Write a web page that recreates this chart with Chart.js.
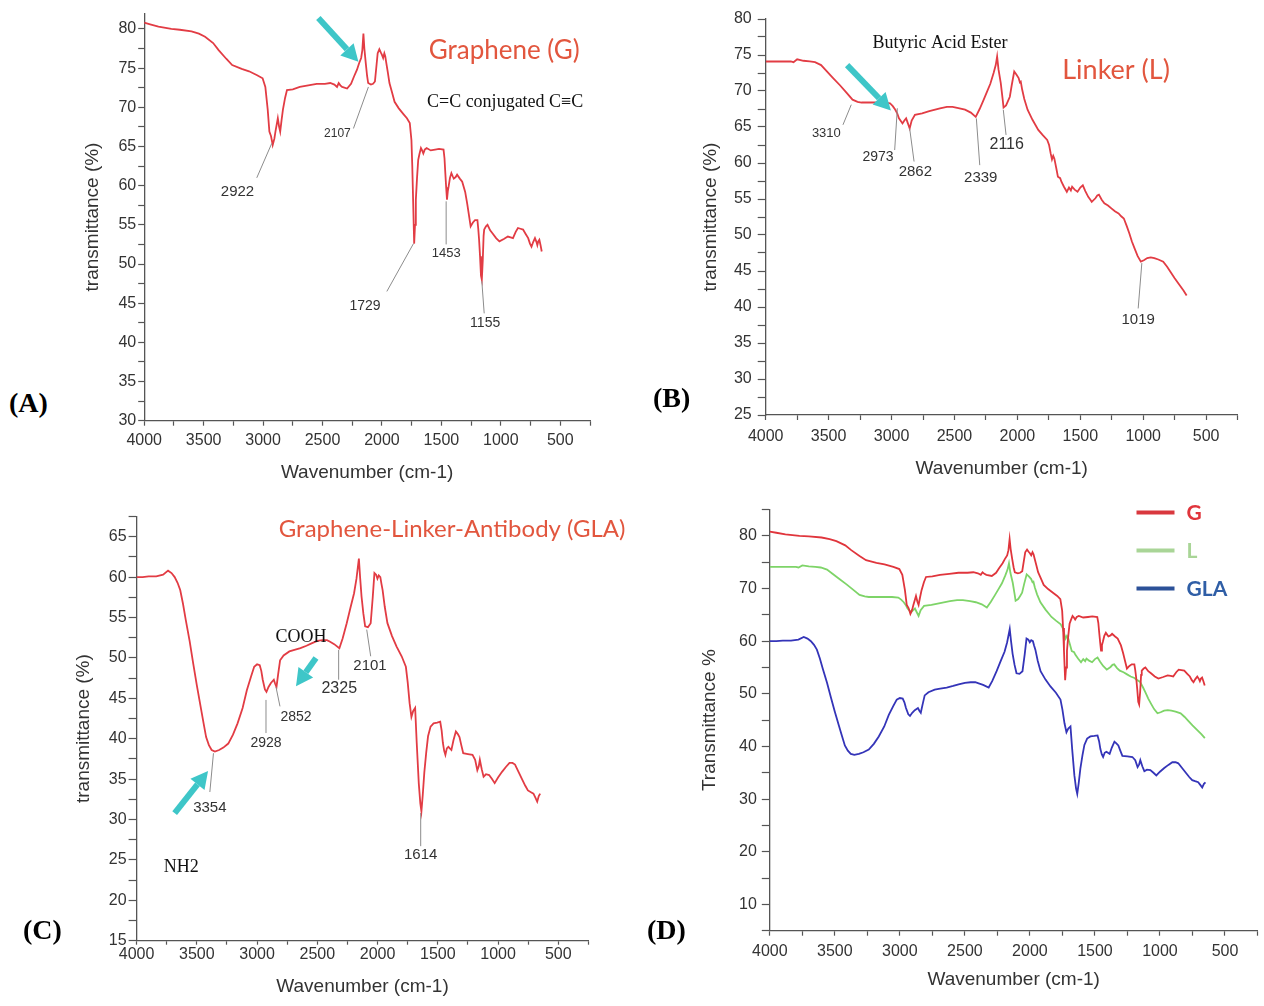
<!DOCTYPE html>
<html>
<head>
<meta charset="utf-8">
<title>FTIR spectra G / L / GLA</title>
<script src="https://cdn.jsdelivr.net/npm/chart.js@4.4.1/dist/chart.umd.min.js"></script>
<style>
  html, body { margin: 0; padding: 0; background: #fff; }
  body { width: 1264px; height: 1006px; position: relative; overflow: hidden; }
  .box { position: absolute; }
  .tag { position: absolute; font: bold 28px "Liberation Serif", "Times New Roman", serif; line-height: 28px; color: #000; }
</style>
</head>
<body>
<div class="box" style="left:60px;top:0;width:600px;height:500px"><canvas id="chartA"></canvas></div>
<div class="box" style="left:680px;top:0;width:584px;height:490px"><canvas id="chartB"></canvas></div>
<div class="box" style="left:50px;top:495px;width:600px;height:511px"><canvas id="chartC"></canvas></div>
<div class="box" style="left:680px;top:495px;width:584px;height:511px"><canvas id="chartD"></canvas></div>
<div class="tag" style="left:9px;top:389px">(A)</div>
<div class="tag" style="left:653px;top:384px">(B)</div>
<div class="tag" style="left:23px;top:916px">(C)</div>
<div class="tag" style="left:647px;top:916px">(D)</div>
<script>
// spectra: [wavenumber cm-1, transmittance %]
const graphene = [
  [4000,80.8],[3950,80.6],[3880,80.3],[3772,80.0],[3700,79.9],[3602,79.7],[3540,79.4],[3488,79.0],
  [3420,78.2],[3374,77.3],[3310,76.2],[3260,75.4],[3180,74.9],[3118,74.6],[3050,74.1],[3004,73.7],
  [2981,72.6],[2961,69.7],[2947,66.9],[2933,66.3],[2919,65.2],[2905,66.0],[2896,66.9],[2876,68.6],
  [2865,67.5],[2856,66.9],[2845,68.3],[2833,69.7],[2815,71.2],[2799,72.2],[2750,72.3],[2691,72.6],
  [2620,72.8],[2549,73.0],[2480,73.0],[2435,73.1],[2400,72.9],[2378,72.6],[2364,73.1],[2350,72.8],
  [2335,72.6],[2293,72.4],[2260,73.0],[2236,73.9],[2210,74.8],[2193,75.6],[2175,76.3],[2165,77.3],
  [2156,79.4],[2148,77.5],[2136,75.6],[2125,74.0],[2116,73.1],[2093,72.9],[2075,73.0],[2059,73.3],
  [2045,75.5],[2036,76.9],[2022,77.4],[2010,77.0],[2000,76.7],[1990,76.3],[1980,76.9],[1972,76.5],
  [1965,75.8],[1950,74.4],[1937,73.1],[1915,71.9],[1894,70.7],[1860,69.9],[1823,69.2],[1790,68.6],
  [1766,68.0],[1752,65.8],[1745,62.5],[1738,58.2],[1729,52.6],[1722,55.0],[1715,58.2],[1705,61.0],
  [1695,63.3],[1685,64.0],[1672,64.8],[1662,64.5],[1652,64.1],[1640,64.6],[1624,64.8],[1590,64.5],
  [1553,64.6],[1520,64.7],[1482,64.6],[1474,63.5],[1467,61.6],[1460,59.8],[1453,58.2],[1446,59.3],
  [1439,59.9],[1428,61.0],[1416,61.6],[1405,61.2],[1396,60.9],[1380,61.1],[1368,61.4],[1345,60.9],
  [1325,60.5],[1300,59.2],[1283,57.7],[1268,56.2],[1254,54.8],[1235,55.3],[1217,55.6],[1197,55.6],
  [1190,54.5],[1183,53.1],[1175,51.0],[1167,48.5],[1160,48.0],[1152,50.5],[1145,53.6],[1140,54.4],
  [1125,54.8],[1112,55.0],[1090,54.3],[1069,53.9],[1040,53.3],[1012,52.9],[975,53.2],[941,53.5],
  [918,53.4],[898,53.3],[875,54.1],[856,54.6],[835,54.5],[813,54.4],[790,53.8],[770,53.3],
  [755,52.6],[742,52.2],[728,52.8],[713,53.3],[700,52.8],[693,52.4],[685,52.9],[676,53.1],
  [666,52.4],[656,51.6]
];
const linker = [
  [4000,74.1],[3900,74.1],[3800,74.1],[3779,74.0],[3750,74.4],[3700,74.2],[3650,74.1],[3608,74.0],
  [3560,73.6],[3523,72.9],[3470,71.9],[3410,70.8],[3360,69.8],[3310,68.8],[3270,68.5],[3239,68.4],
  [3150,68.4],[3060,68.4],[3012,68.3],[2990,67.9],[2970,67.4],[2955,66.9],[2941,66.2],[2925,65.8],
  [2913,65.5],[2898,65.9],[2884,66.2],[2870,65.5],[2856,64.8],[2840,65.9],[2814,66.7],[2757,66.9],
  [2700,67.2],[2615,67.6],[2560,67.8],[2515,67.8],[2460,67.6],[2416,67.4],[2370,67.0],[2331,66.4],
  [2300,67.5],[2270,68.7],[2246,69.7],[2215,71.0],[2189,72.5],[2172,73.6],[2161,74.8],[2150,73.0],
  [2132,71.1],[2118,69.0],[2110,67.7],[2090,68.0],[2075,68.6],[2060,69.2],[2045,70.8],[2025,72.7],
  [2008,72.3],[1990,71.8],[1980,71.2],[1973,71.3],[1962,70.2],[1945,68.9],[1919,67.4],[1880,66.0],
  [1834,64.6],[1800,63.9],[1763,63.2],[1748,62.5],[1735,61.3],[1725,60.5],[1715,61.0],[1706,60.6],
  [1690,59.2],[1678,58.1],[1660,57.9],[1650,57.4],[1630,56.7],[1607,56.0],[1590,56.6],[1575,56.2],
  [1565,56.7],[1545,56.3],[1522,56.0],[1500,56.6],[1480,56.9],[1460,56.1],[1437,55.3],[1420,54.9],
  [1409,54.6],[1380,55.1],[1365,55.5],[1352,55.6],[1330,54.9],[1309,54.4],[1280,54.1],[1253,53.7],
  [1225,53.3],[1196,53.0],[1175,52.6],[1154,52.3],[1130,51.2],[1110,50.2],[1090,49.1],[1068,48.1],
  [1045,47.1],[1019,46.3],[995,46.5],[968,46.8],[940,46.9],[912,46.8],[880,46.6],[841,46.3],
  [810,45.6],[784,44.9],[750,44.0],[713,43.1],[680,42.3],[655,41.6]
];
const gla = [
  [4000,60.0],[3950,60.0],[3900,60.1],[3837,60.1],[3780,60.3],[3739,60.8],[3710,60.5],[3684,60.0],
  [3660,59.3],[3638,58.4],[3615,56.7],[3592,54.7],[3560,52.1],[3530,49.3],[3500,46.6],[3469,44.0],
  [3445,42.0],[3423,40.2],[3400,39.2],[3377,38.6],[3350,38.4],[3315,38.6],[3280,38.9],[3239,39.4],
  [3200,40.5],[3162,41.9],[3120,43.8],[3085,46.0],[3050,47.7],[3024,48.9],[3000,49.2],[2978,49.1],
  [2965,48.4],[2953,47.3],[2935,46.1],[2922,45.8],[2905,46.4],[2885,46.9],[2861,47.3],[2850,46.8],
  [2839,46.4],[2825,48.0],[2809,49.7],[2780,50.3],[2732,50.8],[2690,51.0],[2640,51.2],[2590,51.5],
  [2548,51.8],[2500,52.1],[2456,52.2],[2420,52.2],[2394,52.0],[2360,51.7],[2317,51.2],[2290,52.4],
  [2256,54.3],[2225,56.2],[2195,58.0],[2175,59.8],[2155,62.3],[2145,60.0],[2133,57.6],[2118,55.5],
  [2103,53.9],[2080,53.8],[2057,54.3],[2040,57.5],[2026,60.5],[2012,60.3],[2001,59.8],[1990,60.2],
  [1977,60.0],[1968,59.2],[1958,58.4],[1940,56.3],[1918,54.3],[1880,52.7],[1842,51.4],[1800,50.2],
  [1765,48.9],[1750,47.0],[1734,44.4],[1719,42.7],[1705,43.4],[1688,43.8],[1675,39.5],[1658,34.5],
  [1645,32.0],[1636,31.0],[1625,33.0],[1612,35.8],[1596,38.3],[1581,40.3],[1560,41.5],[1535,41.9],
  [1505,42.0],[1480,42.1],[1468,41.0],[1458,39.5],[1447,38.5],[1437,38.0],[1425,38.8],[1412,39.0],
  [1400,38.8],[1387,38.6],[1370,39.8],[1350,40.9],[1335,40.6],[1320,40.2],[1305,39.2],[1289,38.2],
  [1250,38.1],[1212,38.0],[1190,37.4],[1172,36.1],[1160,36.6],[1151,37.4],[1135,36.2],[1120,35.3],
  [1100,35.6],[1074,35.5],[1050,35.0],[1028,34.5],[1000,35.2],[967,35.9],[935,36.5],[905,37.0],
  [880,37.0],[859,36.8],[830,35.9],[798,34.9],[775,34.2],[752,33.6],[730,33.4],[706,33.2],
  [690,32.7],[675,32.2],[662,32.9],[650,33.2]
];

const wavenumberLabels = [4000, 3500, 3000, 2500, 2000, 1500, 1000, 500];
const yLabelsA = [30, 35, 40, 45, 50, 55, 60, 65, 70, 75, 80];
const yLabelsB = [25, 30, 35, 40, 45, 50, 55, 60, 65, 70, 75, 80];
const yLabelsC = [15, 20, 25, 30, 35, 40, 45, 50, 55, 60, 65];
const yLabelsD = [10, 20, 30, 40, 50, 60, 70, 80];

const TITLE_RED = '#e2563e';
const SERIF = '"Liberation Serif", "Times New Roman", serif';
const SANS = '"Liberation Sans", Arial, sans-serif';

// peak labels and notes, placed in data units [wavenumber, transmittance]
const NOTES = {
  chartA: [
    { text: 'Graphene (G)', at: [972, 77.2], font: '26px Lato', color: TITLE_RED },
    { text: 'C=C conjugated C\u2261C', at: [964, 70.6], font: '18px ' + SERIF, color: '#111' },
    { text: '2922', at: [3215, 59.2], size: 15, line: [[2927, 65.4], [3053, 61.0]] },
    { text: '2107', at: [2375, 66.6], size: 12, line: [[2114, 72.6], [2240, 67.3]] },
    { text: '1729', at: [2142, 44.6], size: 14, line: [[1735, 52.6], [1959, 46.5]] },
    { text: '1453', at: [1460, 51.3], size: 13, line: [[1460, 58.0], [1460, 52.5]] },
    { text: '1155', at: [1132, 42.5], size: 14, line: [[1160, 47.8], [1140, 43.7]] },
    { arrow: [[2535, 81.4], [2198, 75.8]] }
  ],
  chartB: [
    { text: 'Butyric Acid Ester', at: [2615, 76.6], font: '18px ' + SERIF, color: '#111' },
    { text: 'Linker (L)', at: [1216, 72.9], font: '27px Lato', color: TITLE_RED },
    { text: '3310', at: [3518, 64.1], size: 13, line: [[3320, 68.1], [3386, 65.3]] },
    { text: '2973', at: [3108, 60.8], size: 14, line: [[2954, 67.6], [2975, 61.8]] },
    { text: '2862', at: [2811, 58.8], size: 15, line: [[2856, 64.8], [2821, 60.2]] },
    { text: '2339', at: [2291, 58.0], size: 15, line: [[2326, 66.2], [2299, 59.7]] },
    { text: '2116', at: [2085, 62.5], size: 16, line: [[2112, 67.4], [2090, 63.9]] },
    { text: '1019', at: [1040, 38.2], size: 15, line: [[1011, 46.1], [1040, 39.8]] },
    { arrow: [[3353, 73.6], [3005, 67.3]] }
  ],
  chartC: [
    { text: 'Graphene-Linker-Antibody (GLA)', at: [1381, 65.9], font: '24px Lato', color: TITLE_RED },
    { text: 'COOH', at: [2636, 52.6], font: '18px ' + SERIF, color: '#111' },
    { text: 'NH2', at: [3629, 24.1], font: '18px ' + SERIF, color: '#111' },
    { text: '3354', at: [3392, 31.4], size: 15, line: [[3362, 38.2], [3392, 33.4]] },
    { text: '2928', at: [2926, 39.5], size: 14, line: [[2926, 44.8], [2926, 40.7]] },
    { text: '2852', at: [2677, 42.7], size: 14, line: [[2843, 46.4], [2810, 44.0]] },
    { text: '2325', at: [2318, 46.2], size: 16, line: [[2323, 51.0], [2323, 47.3]] },
    { text: '2101', at: [2063, 49.0], size: 15, line: [[2090, 53.5], [2057, 50.2]] },
    { text: '1614', at: [1642, 25.6], size: 15, line: [[1642, 30.8], [1642, 26.7]] },
    { arrow: [[3684, 30.8], [3407, 36.0]] },
    { arrow: [[2511, 50.0], [2677, 46.5]] }
  ],
  chartD: []
};

function drawArrow(ctx, x1, y1, x2, y2) {
  const ang = Math.atan2(y2 - y1, x2 - x1);
  const head = 17, half = 9;
  const bx = x2 - head * Math.cos(ang), by = y2 - head * Math.sin(ang);
  ctx.strokeStyle = '#3ec6c8';
  ctx.fillStyle = '#3ec6c8';
  ctx.lineWidth = 6;
  ctx.lineCap = 'butt';
  ctx.beginPath(); ctx.moveTo(x1, y1); ctx.lineTo(bx, by); ctx.stroke();
  ctx.beginPath();
  ctx.moveTo(x2, y2);
  ctx.lineTo(bx + half * Math.sin(ang), by - half * Math.cos(ang));
  ctx.lineTo(bx - half * Math.sin(ang), by + half * Math.cos(ang));
  ctx.closePath(); ctx.fill();
}

const notesPlugin = {
  id: 'notes',
  afterDraw(chart) {
    const ctx = chart.ctx;
    const xs = chart.scales.x, ys = chart.scales.y;
    const px = w => xs.getPixelForValue(w), py = v => ys.getPixelForValue(v);
    ctx.save();
    for (const n of NOTES[chart.canvas.id] || []) {
      if (n.line) {
        ctx.strokeStyle = '#8c8c8c';
        ctx.lineWidth = 1;
        ctx.beginPath();
        ctx.moveTo(px(n.line[0][0]), py(n.line[0][1]));
        ctx.lineTo(px(n.line[1][0]), py(n.line[1][1]));
        ctx.stroke();
      }
      if (n.arrow) drawArrow(ctx, px(n.arrow[0][0]), py(n.arrow[0][1]), px(n.arrow[1][0]), py(n.arrow[1][1]));
      if (n.text) {
        ctx.font = n.font || (n.size + 'px ' + SANS);
        ctx.fillStyle = n.color || '#333';
        ctx.textAlign = 'center';
        ctx.textBaseline = 'middle';
        ctx.fillText(n.text, px(n.at[0]), py(n.at[1]));
      }
    }
    // legend of panel D
    if (chart.canvas.id === 'chartD') {
      const { right, top } = chart.chartArea;
      const rows = [3, 41, 79];
      chart.data.datasets.forEach((ds, i) => {
        const y = top + rows[i];
        ctx.strokeStyle = ds.keyColor;
        ctx.lineWidth = 4;
        ctx.beginPath(); ctx.moveTo(right - 121, y); ctx.lineTo(right - 83, y); ctx.stroke();
        ctx.fillStyle = ds.keyText;
        ctx.font = 'bold 21px Lato';
        ctx.textAlign = 'left';
        ctx.textBaseline = 'middle';
        ctx.fillText(ds.label, right - 71, y + 1);
      });
    }
    ctx.restore();
  }
};

const panels = [
  { id: 'chartA', series: [{ label: 'G', pts: graphene, color: '#e23c44' }],
    yMin: 30, yMax: 82, yStep: 2.5, yLabels: yLabelsA, yTitle: 'transmittance (%)',
    padTop: 13.3, padRight: 70, yW: 84.2, xH: 79.3, yTick: [6, 2], xTick: [5, 5.5], yTitlePad: 21.5, xTitlePad: 16.3 },
  { id: 'chartB', series: [{ label: 'L', pts: linker, color: '#e23c44' }],
    yMin: 25, yMax: 80, yStep: 2.5, yLabels: yLabelsB, yTitle: 'transmittance (%)',
    padTop: 19, padRight: 26.4, yW: 85.7, xH: 75, yTick: [8, 6], xTick: [5, 7.2], yTitlePad: 19.5, xTitlePad: 10.3 },
  { id: 'chartC', series: [{ label: 'GLA', pts: gla, color: '#e23c44' }],
    yMin: 15, yMax: 67.5, yStep: 2.5, yLabels: yLabelsC, yTitle: 'transmittance (%)',
    padTop: 21.5, padRight: 61.6, yW: 86.6, xH: 65.3, yTick: [8, 2], xTick: [4, 0], yTitlePad: 22, xTitlePad: 7.6 },
  { id: 'chartD', series: [
      { label: 'G', pts: graphene, color: '#e0353c', keyColor: '#d9383e', keyText: '#e0353c' },
      { label: 'L', pts: linker, color: '#7ed468', keyColor: '#a9d597', keyText: '#a9d597' },
      { label: 'GLA', pts: gla, color: '#3434b8', keyColor: '#2c5198', keyText: '#2f5ea6' }],
    yMin: 5, yMax: 85, yStep: 5, yLabels: yLabelsD, yTitle: 'Transmittance %',
    padTop: 12.9, padRight: 3, yW: 89.8, xH: 75.3, yTick: [8, 5], xTick: [5, 6.5], yTitlePad: 18, xTitlePad: 14.6 }
];

function buildChart(p) {
  const tickFont = { family: SANS, size: 16 };
  const titleFont = { family: SANS, size: 19 };
  return new Chart(document.getElementById(p.id), {
    type: 'line',
    data: {
      datasets: p.series.map(s => ({
        label: s.label,
        data: s.pts.map(([x, y]) => ({ x, y })),
        borderColor: s.color,
        borderWidth: 1.8,
        pointRadius: 0,
        tension: 0,
        fill: false,
        keyColor: s.keyColor,
        keyText: s.keyText
      }))
    },
    options: {
      responsive: true,
      maintainAspectRatio: false,
      animation: false,
      layout: { padding: { top: p.padTop, right: p.padRight, left: 0, bottom: 0 } },
      plugins: { legend: { display: false }, tooltip: { enabled: false } },
      scales: {
        x: {
          type: 'linear', reverse: true, min: 250, max: 4000,
          afterFit: s => { s.height = p.xH; },
          border: { color: '#555', width: 1.3 },
          grid: { drawOnChartArea: false, tickLength: p.xTick[0], tickColor: '#555', tickWidth: 1.2 },
          ticks: {
            stepSize: 250, autoSkip: false, includeBounds: false, maxRotation: 0,
            padding: p.xTick[1], color: '#333', font: tickFont,
            callback: v => wavenumberLabels.includes(Math.round(v)) ? String(Math.round(v)) : ''
          },
          title: { display: true, text: 'Wavenumber (cm-1)', color: '#333', font: titleFont,
                   padding: { top: 0, bottom: p.xTitlePad } }
        },
        y: {
          type: 'linear', min: p.yMin, max: p.yMax,
          afterFit: s => { s.width = p.yW; },
          border: { color: '#555', width: 1.3 },
          grid: { drawOnChartArea: false, tickLength: p.yTick[0], tickColor: '#555', tickWidth: 1.2 },
          ticks: {
            stepSize: p.yStep, autoSkip: false, includeBounds: false,
            padding: p.yTick[1], color: '#333', font: tickFont,
            callback: v => p.yLabels.includes(v) ? String(v) : ''
          },
          title: { display: true, text: p.yTitle, color: '#333', font: titleFont,
                   padding: { top: p.yTitlePad, bottom: 0 } }
        }
      }
    },
    plugins: [notesPlugin]
  });
}

panels.forEach(buildChart);
</script>
</body>
</html>
